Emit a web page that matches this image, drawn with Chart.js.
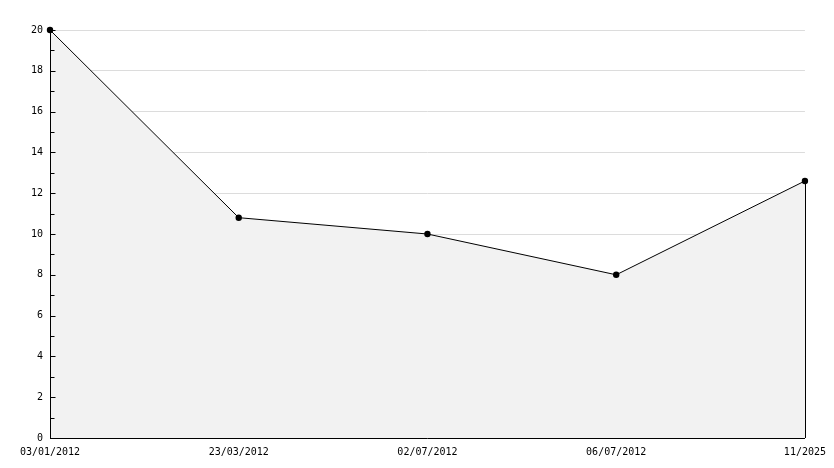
<!DOCTYPE html>
<html>
<head>
<meta charset="utf-8">
<script src="https://cdn.jsdelivr.net/npm/chart.js@4"></script>
<style>
    html, body { margin: 0; padding: 0; background: #fff; }
    #wrap { width: 834px; height: 468px; }
</style>
</head>
<body>
<div id="wrap"><canvas id="chart" width="834" height="468"></canvas></div>
<script>
const labels = ['03/01/2012', '23/03/2012', '02/07/2012', '06/07/2012', '11/2025'];
const values = [20, 10.8, 10, 8, 12.6];
const yMin = 0;
const yMax = 20;
const yStep = 2;

const font = { family: '"DejaVu Sans Mono", monospace', size: 10 };

// y axis line + small ticks inside the plot, drawn over the fill
const axisOverlay = {
    id: 'axisOverlay',
    afterDatasetsDraw(chart) {
        const ctx = chart.ctx;
        const y = chart.scales.y;
        const area = chart.chartArea;
        const left = Math.round(area.left) + 0.5;
        ctx.save();
        ctx.strokeStyle = '#000';
        ctx.lineWidth = 1;
        ctx.beginPath();
        ctx.moveTo(left, area.top);
        ctx.lineTo(left, area.bottom);
        ctx.stroke();
        for (let v = yMin; v <= yMax; v++) {
            const py = Math.round(y.getPixelForValue(v)) + 0.5;
            const len = v % yStep === 0 ? 5 : 4;
            ctx.beginPath();
            ctx.moveTo(left, py);
            ctx.lineTo(left + len, py);
            ctx.stroke();
        }
        // close the filled area on the right side
        const meta = chart.getDatasetMeta(0);
        const last = meta.data[meta.data.length - 1];
        const px = Math.round(last.x) + 0.5;
        ctx.beginPath();
        ctx.moveTo(px, last.y);
        ctx.lineTo(px, area.bottom);
        ctx.stroke();
        ctx.restore();
    },
};

new Chart(document.getElementById('chart'), {
    type: 'line',
    data: {
        labels,
        datasets: [{
            data: values,
            clip: false,
            borderColor: '#000',
            borderWidth: 1,
            backgroundColor: '#f2f2f2',
            fill: 'origin',
            tension: 0,
            pointRadius: 3.2,
            pointBackgroundColor: '#000',
            pointBorderColor: '#000',
            pointBorderWidth: 0,
        }],
    },
    options: {
        responsive: false,
        animation: false,
        layout: { padding: { top: 30, right: 29, left: 0, bottom: 0 } },
        plugins: {
            legend: { display: false },
            tooltip: { enabled: false },
        },
        scales: {
            x: {
                offset: false,
                grid: { display: true, color: 'rgba(0,0,0,0)', drawTicks: false },
                border: { display: true, color: '#000', width: 1 },
                ticks: { color: '#000', font, padding: 8, maxRotation: 0, autoSkip: false },
                afterFit(scale) { scale.height = 30; },
            },
            y: {
                min: yMin,
                max: yMax,
                grid: { color: '#dcdcdc', drawTicks: false },
                border: { display: false },
                ticks: { stepSize: yStep, color: '#000', font, padding: 7 },
                afterFit(scale) { scale.width = 50; },
            },
        },
    },
    plugins: [axisOverlay],
});
</script>
</body>
</html>
